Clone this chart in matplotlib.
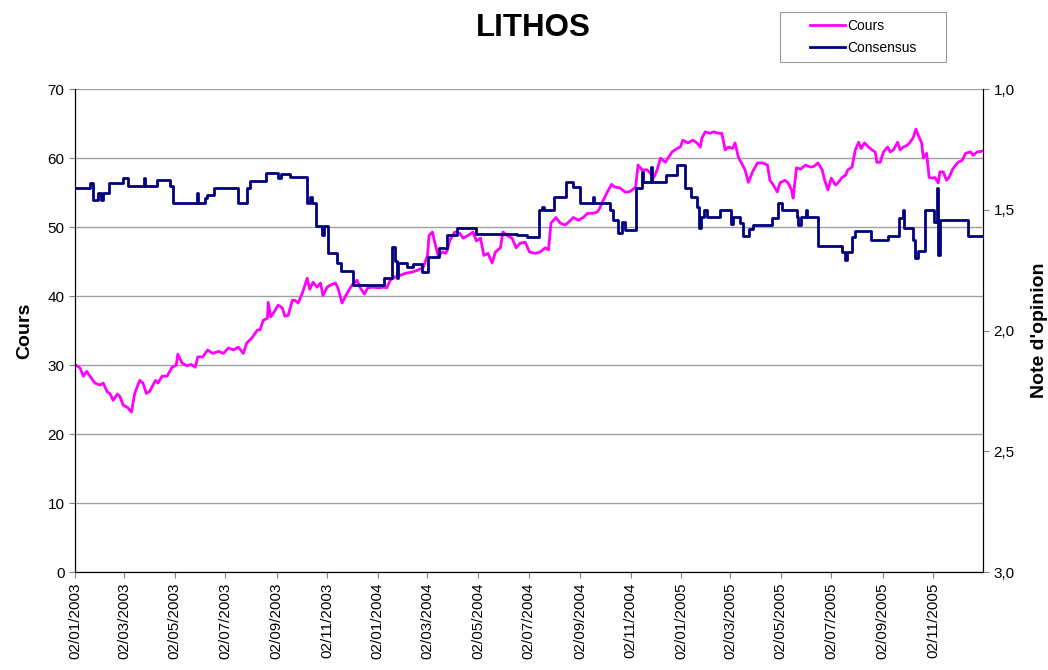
# lithos_chart.py

import numpy as np
import pandas as pd
import matplotlib
matplotlib.use("Agg")
from matplotlib import pyplot as plt
import matplotlib.dates as mdates
from matplotlib.lines import Line2D
from matplotlib.legend_handler import HandlerLine2D
from matplotlib.ticker import FuncFormatter

plt.rcParams['font.family'] = ['Liberation Sans', 'DejaVu Sans']

# days counted from 02/01/2003
start_date = "2003-01-02"
end_days = 1095

cours_days = [1, 6, 10, 14, 18, 24, 30, 34, 39, 42, 46, 51, 54, 58, 63, 68, 72,
              78, 82, 86, 90, 97, 100, 105, 111, 117, 122, 124, 129, 135, 140,
              145, 148, 154, 160, 166, 173, 179, 185, 191, 197, 203, 207, 213,
              220, 223, 227, 232, 233, 236, 240, 245, 250, 253, 257, 262, 265,
              269, 274, 280, 283, 287, 292, 296, 299, 304, 308, 314, 317, 322,
              328, 334, 340, 344, 349, 353, 359, 366, 372, 376, 380, 386, 392,
              398, 407, 414, 420, 425, 427, 431, 434, 438, 443, 447, 449, 452,
              458, 464, 468, 474, 480, 484, 489, 493, 498, 503, 507, 513, 516,
              521, 527, 532, 537, 543, 548, 555, 561, 567, 571, 574, 580, 585,
              591, 595, 601, 607, 613, 618, 624, 630, 633, 637, 642, 647, 651,
              657, 663, 668, 672, 676, 679, 684, 690, 694, 698, 702, 706, 712,
              715, 720, 726, 730, 733, 739, 745, 750, 754, 756, 760, 766, 770,
              776, 780, 784, 788, 793, 796, 800, 805, 808, 812, 817, 823, 829,
              835, 838, 842, 847, 850, 856, 860, 864, 866, 870, 875, 881, 887,
              891, 896, 901, 904, 908, 912, 917, 920, 925, 929, 932, 937, 941,
              945, 948, 952, 957, 961, 965, 967, 971, 975, 980, 983, 987, 992,
              995, 999, 1004, 1007, 1011, 1014, 1017, 1021, 1023, 1027, 1030,
              1034, 1037, 1041, 1043, 1047, 1051, 1054, 1058, 1062, 1065, 1070,
              1074, 1080, 1083, 1088, 1094]
cours_values = [30.0, 29.6, 28.4, 29.1, 28.4, 27.4, 27.1, 27.4, 26.1, 25.9,
                24.9, 25.8, 25.5, 24.2, 23.9, 23.2, 25.9, 27.8, 27.4, 25.9,
                26.2, 27.8, 27.4, 28.4, 28.4, 29.7, 30.0, 31.6, 30.3, 29.9,
                30.1, 29.7, 31.2, 31.2, 32.2, 31.7, 32.0, 31.7, 32.5, 32.2,
                32.6, 31.7, 33.2, 33.9, 35.1, 35.1, 36.5, 36.8, 39.1, 37.0,
                37.7, 38.7, 38.3, 37.1, 37.2, 39.4, 39.4, 39.0, 40.4, 42.6,
                41.0, 42.0, 41.3, 41.9, 40.1, 41.3, 41.6, 41.9, 41.2, 39.0,
                40.4, 41.6, 42.3, 41.2, 40.3, 41.2, 41.3, 41.2, 41.3, 41.2,
                42.3, 42.8, 43.0, 43.3, 43.5, 43.8, 44.2, 45.9, 48.8, 49.3,
                47.7, 45.8, 46.4, 46.2, 46.7, 48.1, 49.3, 49.1, 48.4, 48.8,
                49.3, 48.0, 48.4, 45.9, 46.2, 44.8, 46.4, 47.0, 49.3, 48.8,
                48.4, 47.0, 47.7, 47.8, 46.4, 46.2, 46.4, 47.0, 46.7, 50.6,
                51.4, 50.6, 50.3, 50.7, 51.4, 51.0, 51.4, 52.0, 52.0, 52.2,
                52.8, 53.9, 55.1, 56.2, 55.8, 55.7, 55.1, 55.1, 55.4, 55.8,
                59.0, 58.3, 58.3, 57.8, 57.2, 58.3, 60.0, 59.4, 60.0, 60.9,
                61.4, 61.6, 62.6, 62.2, 62.6, 62.2, 61.6, 62.9, 63.8, 63.6,
                63.8, 63.6, 63.6, 61.2, 61.6, 61.4, 62.2, 60.1, 59.0, 58.3,
                56.5, 58.0, 59.3, 59.3, 59.0, 56.8, 56.1, 55.1, 56.4, 56.8,
                56.4, 55.4, 54.2, 58.6, 58.4, 59.0, 58.7, 58.8, 59.3, 58.3,
                56.8, 55.4, 57.1, 56.1, 56.4, 57.2, 57.5, 58.3, 58.7, 61.2,
                62.3, 61.4, 62.2, 61.6, 61.2, 60.9, 59.4, 59.4, 60.9, 61.6,
                60.9, 61.2, 62.3, 61.2, 61.6, 61.9, 62.3, 63.0, 64.2, 63.3,
                62.2, 60.0, 60.7, 57.2, 57.1, 57.2, 56.4, 58.0, 58.0, 56.8,
                57.2, 58.3, 59.0, 59.4, 59.7, 60.7, 60.9, 60.4, 60.9, 61.0]

consensus_days = [1, 18, 22, 28, 31, 34, 41, 58, 64, 83, 84, 99, 115, 118, 147,
                  148, 157, 159, 168, 197, 207, 211, 230, 245, 248, 259, 280,
                  283, 286, 291, 298, 300, 305, 316, 321, 335, 372, 382, 386,
                  388, 390, 400, 407, 419, 426, 439, 449, 461, 483, 533, 545,
                  559, 563, 565, 578, 592, 601, 609, 625, 626, 645, 649, 655,
                  660, 663, 676, 684, 685, 694, 696, 713, 726, 735, 743, 750,
                  753, 755, 759, 762, 778, 791, 793, 802, 805, 813, 817, 840,
                  848, 853, 871, 872, 876, 881, 883, 896, 925, 929, 931, 937,
                  941, 960, 980, 994, 998, 1000, 1011, 1013, 1016, 1025, 1036,
                  1040, 1041, 1043, 1077, 1094]
consensus_values = [1.41, 1.39, 1.46, 1.43, 1.46, 1.43, 1.39, 1.37, 1.40, 1.37,
                    1.40, 1.377, 1.40, 1.47, 1.43, 1.47, 1.45, 1.44, 1.41,
                    1.47, 1.41, 1.38, 1.348, 1.37, 1.352, 1.364, 1.472, 1.447,
                    1.472, 1.567, 1.604, 1.567, 1.68, 1.72, 1.753, 1.81, 1.78,
                    1.654, 1.71, 1.78, 1.72, 1.737, 1.725, 1.758, 1.696, 1.658,
                    1.604, 1.576, 1.60, 1.605, 1.613, 1.50, 1.489, 1.50, 1.447,
                    1.385, 1.406, 1.472, 1.447, 1.472, 1.50, 1.54, 1.596, 1.55,
                    1.584, 1.41, 1.343, 1.385, 1.323, 1.385, 1.356, 1.315,
                    1.41, 1.447, 1.489, 1.576, 1.53, 1.50, 1.53, 1.50, 1.56,
                    1.53, 1.555, 1.609, 1.58, 1.563, 1.534, 1.472, 1.50, 1.53,
                    1.563, 1.53, 1.50, 1.53, 1.65, 1.675, 1.708, 1.675, 1.613,
                    1.588, 1.625, 1.609, 1.534, 1.50, 1.576, 1.625, 1.70, 1.67,
                    1.50, 1.55, 1.41, 1.687, 1.54, 1.609, 1.609]


class ShortLineHandler(HandlerLine2D):
    # legend line only in the right part of the handle box (Excel look)
    def create_artists(self, legend, orig_handle, xdescent, ydescent,
                       width, height, fontsize, trans):
        y = height / 2.0 - ydescent
        line = Line2D([0.4 * width - xdescent, width - xdescent], [y, y])
        self.update_prop(line, orig_handle, legend)
        line.set_transform(trans)
        return [line]


def to_dates(days):
    return pd.Timestamp(start_date) + pd.to_timedelta(np.array(days), unit="D")


def main():
    fig = plt.figure(figsize=(10.48, 6.70), dpi=100)
    ax = fig.add_axes([0.0716, 0.146, 0.8664, 0.721])
    ax2 = ax.twinx()

    l1, = ax.plot(to_dates(cours_days), cours_values, color="#FF00FF",
                  lw=2.0, label="Cours")
    l2, = ax2.plot(to_dates(consensus_days), consensus_values,
                   color="#000080", lw=2.0, drawstyle="steps-post",
                   label="Consensus")

    ax.set_ylim(0, 70)
    ax.set_yticks(range(0, 71, 10))
    ax.yaxis.grid(True, color="#a0a0a0", lw=1.0)
    ax.set_axisbelow(True)
    ax2.set_ylim(3.0, 1.0)
    ax2.set_yticks([1.0, 1.5, 2.0, 2.5, 3.0])
    ax2.yaxis.set_major_formatter(
        FuncFormatter(lambda v, p: ("%.1f" % v).replace(".", ",")))

    ax.set_xlim(to_dates([0])[0], to_dates([end_days])[0])
    ticks = pd.date_range("2003-01-01", "2005-11-01", freq="2MS") + \
        pd.Timedelta(days=1)
    ax.set_xticks(ticks)
    ax.xaxis.set_major_formatter(mdates.DateFormatter("%d/%m/%Y"))
    for lab in ax.get_xticklabels():
        lab.set_rotation(90)

    for a in (ax, ax2):
        a.spines["top"].set_visible(False)
        a.spines["left"].set_color("black")
        a.spines["right"].set_color("black")
        a.spines["bottom"].set_color("black")
        a.tick_params(labelsize=11, length=4, color="#808080")

    ax.set_ylabel("Cours", fontsize=14, fontweight="bold", labelpad=10)
    ax2.set_ylabel("Note d'opinion", fontsize=14, fontweight="bold",
                   labelpad=12)

    fig.text(0.509, 0.958, "LITHOS", ha="center", va="center",
             fontsize=22.5, fontweight="bold")

    leg = fig.legend([l1, l2], ["Cours", "Consensus"], loc="center",
                     bbox_to_anchor=(0.744, 0.907, 0.159, 0.075),
                     mode="expand", fontsize=10, frameon=True,
                     fancybox=False, handlelength=4.2, handletextpad=0.15,
                     borderpad=0.5, labelspacing=0.6, borderaxespad=0,
                     handler_map={Line2D: ShortLineHandler()})
    leg.get_frame().set_edgecolor("#808080")
    leg.get_frame().set_linewidth(0.8)

    plt.savefig("out.png", dpi=100)


if __name__ == "__main__":
    main()
